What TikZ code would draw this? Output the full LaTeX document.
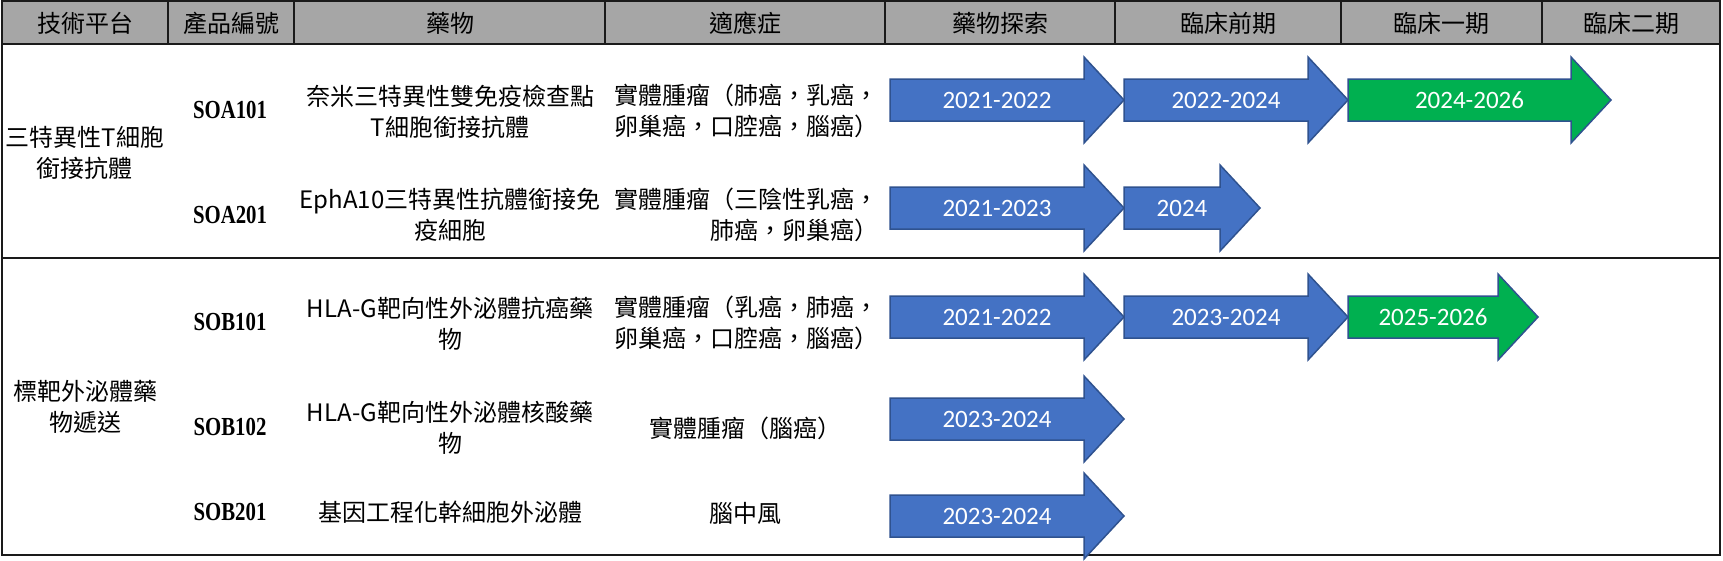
\documentclass[tikz,border=0pt]{standalone}
\usepackage{fontspec}
\newfontfamily\cjk{Noto Sans CJK TC}
\newfontfamily\codefont{Liberation Serif}
\newfontfamily\numfont{Carlito}
\definecolor{hdrgray}{HTML}{A6A6A6}
\definecolor{phblue}{HTML}{4472C4}
\definecolor{phgreen}{HTML}{00B050}
\definecolor{phedge}{HTML}{2F528F}
\definecolor{rulecol}{HTML}{1A1A1A}
\tikzset{
  cjktxt/.style={font=\cjk\fontsize{24}{31}\selectfont, align=center, inner sep=0pt},
  hdrtxt/.style={font=\cjk\fontsize{24}{28}\selectfont, inner sep=0pt},
  codetxt/.style={font=\codefont\bfseries\fontsize{26}{30}\selectfont, inner sep=0pt, xscale=0.8},
  arrowbody/.style={draw=phedge, line width=1.5pt, line join=miter},
  arrowtxt/.style={font=\numfont\fontsize{25}{30}\selectfont, text=white, inner sep=0pt},
  tablerule/.style={line width=2.2pt, draw=rulecol},
  hdrrule/.style={line width=1.8pt, draw=rulecol},
}
\newcommand{\phasearrow}[6]{%
  \draw[arrowbody, fill=#5] (#2,#4-21) -- (#3-40,#4-21) -- (#3-40,#4-43) -- (#3,#4)
     -- (#3-40,#4+43) -- (#3-40,#4+21) -- (#2,#4+21) -- cycle;
  \node[arrowtxt] (#1) at ({(#2+#3-20)/2},#4) {#6};
}
\begin{document}
\begin{tikzpicture}[x=1pt,y=-1pt]
\useasboundingbox (0,0) rectangle (1723,560);
% header
\fill[hdrgray] (2,1) rectangle (1720,44);
\foreach \cx in {168,294,605,885,1115,1341,1542}
  \draw[hdrrule] (\cx,1) -- (\cx,44);
\draw[tablerule] (2,44) -- (1720,44);
\draw[tablerule] (2,258) -- (1720,258);
\draw[tablerule] (2,1) rectangle (1720,555);

\node[hdrtxt] (h1) at (85,23) {技術平台};
\node[hdrtxt] (h2) at (231,23) {產品編號};
\node[hdrtxt] (h3) at (450,23) {藥物};
\node[hdrtxt] (h4) at (745,23) {適應症};
\node[hdrtxt] (h5) at (1000,23) {藥物探索};
\node[hdrtxt] (h6) at (1228,23) {臨床前期};
\node[hdrtxt] (h7) at (1441,23) {臨床一期};
\node[hdrtxt] (h8) at (1631,23) {臨床二期};

% platforms
\node[cjktxt] (plat1) at (85,153) {三特異性T細胞\\銜接抗體};
\node[cjktxt] (plat2) at (85,407) {標靶外泌體藥\\物遞送};

% product codes
\node[codetxt] (code1) at (230,110) {SOA101};
\node[codetxt] (code2) at (230,215) {SOA201};
\node[codetxt] (code3) at (230,322) {SOB101};
\node[codetxt] (code4) at (230,427) {SOB102};
\node[codetxt] (code5) at (230,512) {SOB201};

% drugs
\node[cjktxt] (drug1) at (450,112) {奈米三特異性雙免疫檢查點\\T細胞銜接抗體};
\node[cjktxt] (drug2) at (450,215) {EphA10三特異性抗體銜接免\\疫細胞};
\node[cjktxt] (drug3) at (450,324) {HLA-G靶向性外泌體抗癌藥\\物};
\node[cjktxt] (drug4) at (450,428) {HLA-G靶向性外泌體核酸藥\\物};
\node[cjktxt] (drug5) at (450,512) {基因工程化幹細胞外泌體};

% indications
\node[cjktxt] (ind1) at (746,111) {實體腫瘤（肺癌，乳癌，\\卵巢癌，口腔癌，腦癌）};
\node[cjktxt, align=right, anchor=east] (ind2) at (879,215) {實體腫瘤（三陰性乳癌，\\肺癌，卵巢癌）};
\node[cjktxt] (ind3) at (746,323) {實體腫瘤（乳癌，肺癌，\\卵巢癌，口腔癌，腦癌）};
\node[cjktxt] (ind4) at (745,428) {實體腫瘤（腦癌）};
\node[cjktxt] (ind5) at (745,513) {腦中風};

% phase arrows
\phasearrow{a11}{890}{1124}{100}{phblue}{2021-2022}
\phasearrow{a12}{1124}{1348}{100}{phblue}{2022-2024}
\phasearrow{a13}{1348}{1611}{100}{phgreen}{2024-2026}
\phasearrow{a21}{890}{1124}{208}{phblue}{2021-2023}
\phasearrow{a22}{1124}{1260}{208}{phblue}{2024}
\phasearrow{a31}{890}{1124}{317}{phblue}{2021-2022}
\phasearrow{a32}{1124}{1348}{317}{phblue}{2023-2024}
\phasearrow{a33}{1348}{1538}{317}{phgreen}{2025-2026}
\phasearrow{a41}{890}{1124}{419}{phblue}{2023-2024}
\phasearrow{a51}{890}{1124}{516}{phblue}{2023-2024}
\end{tikzpicture}
\end{document}
